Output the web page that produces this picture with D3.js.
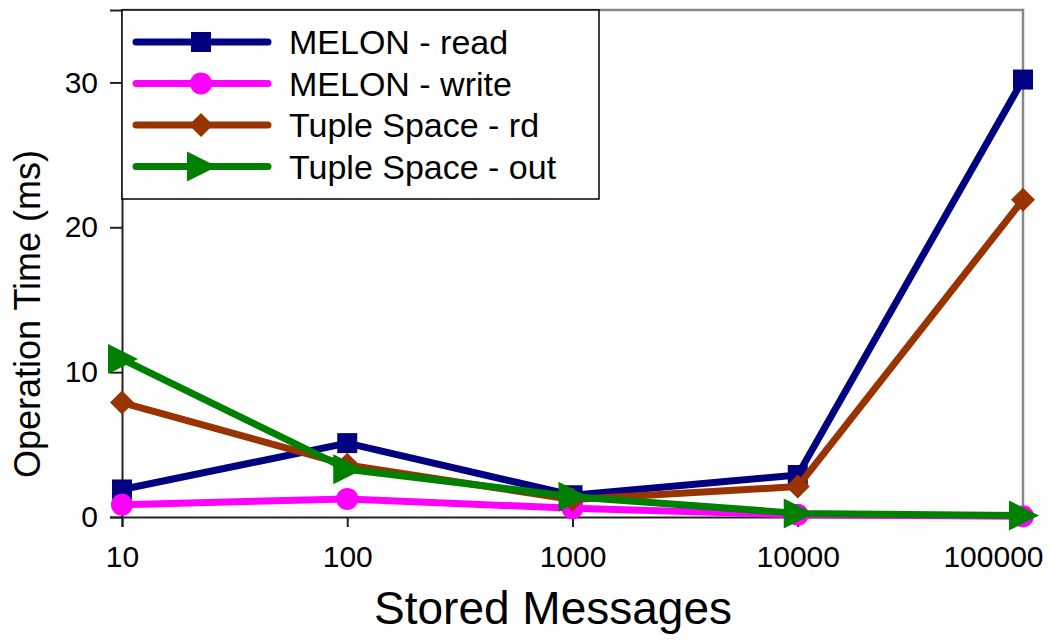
<!DOCTYPE html>
<html>
<head>
<meta charset="utf-8">
<script src="https://cdn.jsdelivr.net/npm/d3@7"></script>
<style>
  body { margin: 0; background: #fff; }
  text { font-family: "Liberation Sans", Arial, sans-serif; fill: #000; }
</style>
</head>
<body>
<svg id="chart" width="1053" height="641"></svg>
<script>
const xValues = [10, 100, 1000, 10000, 100000];
const yTicks = [0, 10, 20, 30];

const melonRead = [1.9, 5.1, 1.5, 2.9, 30.2];
const melonWrite = [0.85, 1.25, 0.6, 0.15, 0.05];
const tupleRd = [7.9, 3.6, 1.2, 2.1, 21.9];
const tupleOut = [10.9, 3.3, 1.4, 0.25, 0.1];

const seriesNames = ["MELON - read", "MELON - write", "Tuple Space - rd", "Tuple Space - out"];
const seriesColors = ["#000080", "#ff00ff", "#993300", "#008000"];
const seriesShapes = ["square", "circle", "diamond", "triangle"];

const series = [melonRead, melonWrite, tupleRd, tupleOut].map((vals, i) => ({
  name: seriesNames[i],
  color: seriesColors[i],
  shape: seriesShapes[i],
  points: vals.map((v, j) => ({ x: xValues[j], y: v }))
}));

const svg = d3.select("#chart");
const plotLeft = 122, plotRight = 1023, plotTop = 10, plotBottom = 517;

const x = d3.scaleLog().domain([10, 100000]).range([plotLeft, plotRight]);
const y = d3.scaleLinear().domain([0, 35]).range([plotBottom, plotTop]);

// frame (top + right in gray)
svg.append("path")
  .attr("d", `M${plotLeft},${plotTop}H${plotRight}V${plotBottom}`)
  .attr("fill", "none")
  .attr("stroke", "#888")
  .attr("stroke-width", 2.5);

// axes
const xAxis = svg.append("g")
  .attr("transform", `translate(0,${plotBottom})`)
  .call(d3.axisBottom(x).tickValues(xValues).tickFormat(d3.format("d")).tickSize(10).tickPadding(19));
const yAxis = svg.append("g")
  .attr("transform", `translate(${plotLeft},0)`)
  .call(d3.axisLeft(y).tickValues(yTicks).tickSize(12).tickPadding(12));

[xAxis, yAxis].forEach(g => {
  g.select(".domain").attr("stroke", "#222").attr("stroke-width", 2);
  g.selectAll(".tick line").attr("stroke", "#222").attr("stroke-width", 2);
  g.selectAll(".tick text").style("font-size", "30px").attr("fill", "#000");
});
// last x label is pulled inside the canvas
xAxis.selectAll(".tick text").filter(d => d === 100000)
  .attr("text-anchor", "end").attr("x", 20);

// axis titles
svg.append("text")
  .attr("x", 553)
  .attr("y", 624)
  .attr("text-anchor", "middle")
  .style("font-size", "46px")
  .text("Stored Messages");

svg.append("text")
  .attr("transform", "translate(40,314) rotate(-90)")
  .attr("text-anchor", "middle")
  .style("font-size", "36px")
  .text("Operation Time (ms)");

function drawMarker(g, shape, color, cx, cy) {
  if (shape === "square") {
    g.append("rect").attr("x", cx - 10).attr("y", cy - 10).attr("width", 20).attr("height", 20).attr("fill", color);
  } else if (shape === "circle") {
    g.append("circle").attr("cx", cx).attr("cy", cy).attr("r", 11).attr("fill", color);
  } else if (shape === "diamond") {
    g.append("path").attr("d", `M${cx},${cy - 12}L${cx + 12},${cy}L${cx},${cy + 12}L${cx - 12},${cy}Z`).attr("fill", color);
  } else {
    g.append("path").attr("d", `M${cx - 14},${cy - 15}L${cx + 16},${cy}L${cx - 14},${cy + 15}Z`).attr("fill", color);
  }
}

const line = d3.line().x(d => x(d.x)).y(d => y(d.y));

series.forEach(s => {
  const g = svg.append("g");
  g.append("path")
    .datum(s.points)
    .attr("d", line)
    .attr("fill", "none")
    .attr("stroke", s.color)
    .attr("stroke-width", 7)
    .attr("stroke-linejoin", "round");
  s.points.forEach(p => drawMarker(g, s.shape, s.color, x(p.x), y(p.y)));
});

// legend
const legend = svg.append("g");
legend.append("rect")
  .attr("x", 122).attr("y", 10)
  .attr("width", 477).attr("height", 189)
  .attr("fill", "#fff")
  .attr("stroke", "#000")
  .attr("stroke-width", 1.5);

series.forEach((s, i) => {
  const ly = 42 + i * 41.5;
  const row = legend.append("g");
  row.append("line")
    .attr("x1", 136).attr("x2", 268)
    .attr("y1", ly).attr("y2", ly)
    .attr("stroke", s.color)
    .attr("stroke-width", 7)
    .attr("stroke-linecap", "round");
  drawMarker(row, s.shape, s.color, 201, ly);
  row.append("text")
    .attr("x", 289)
    .attr("y", ly + 12)
    .style("font-size", "34px")
    .text(s.name);
});
</script>
</body>
</html>
